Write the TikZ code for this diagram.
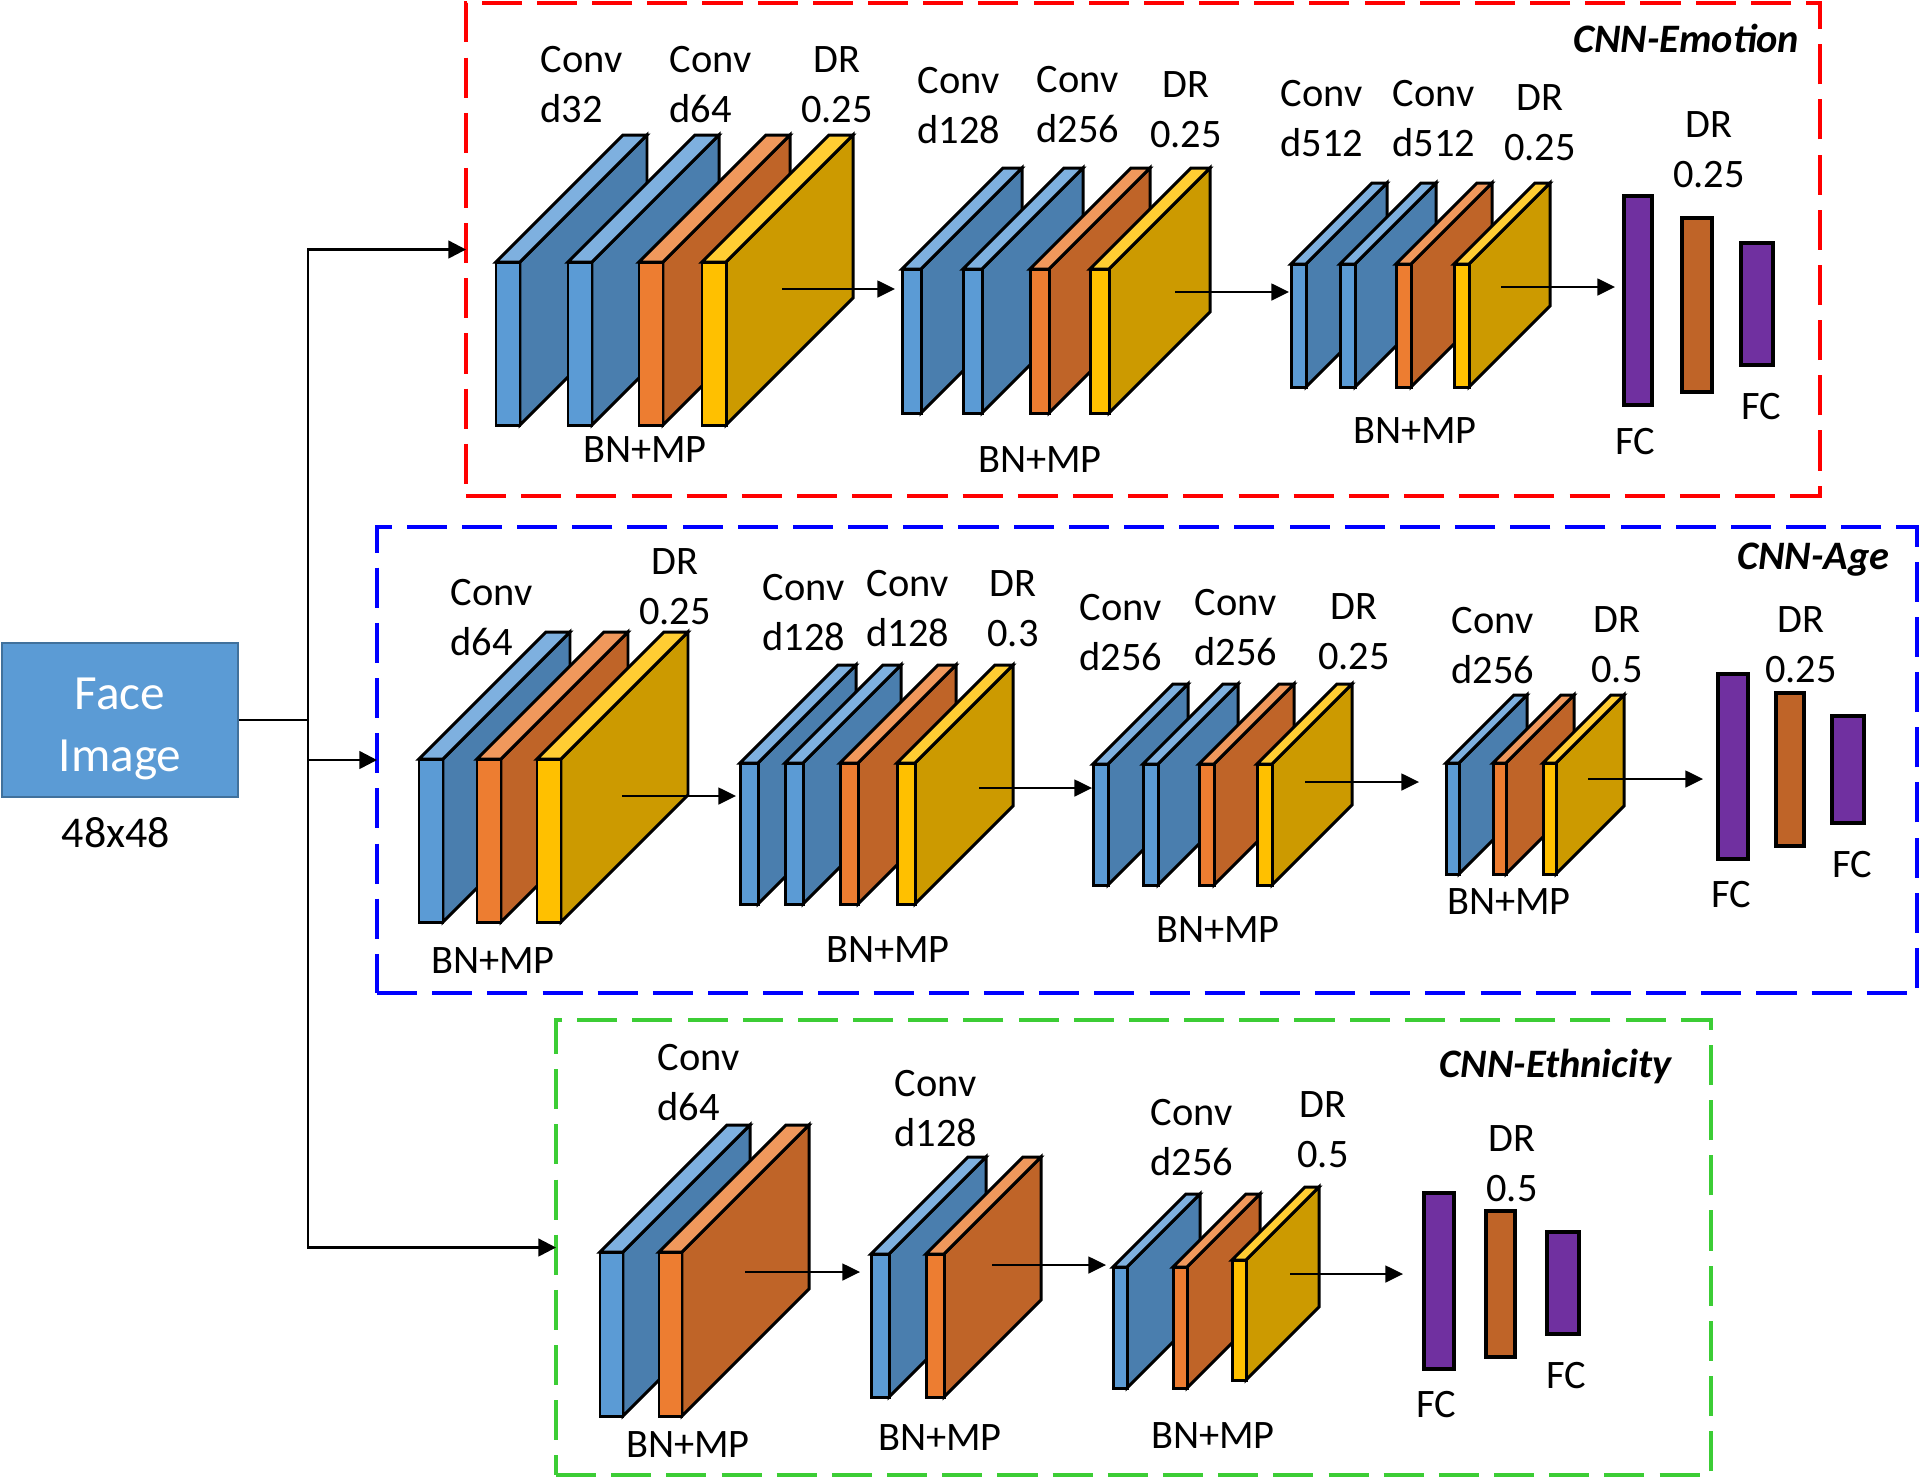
\documentclass[tikz,border=0pt]{standalone}
\usepackage{fontspec}
\setmainfont{Carlito}
\usetikzlibrary{arrows.meta}

% --- Colours ---
\definecolor{bluefront}{HTML}{5B9BD5}
\definecolor{bluetop}{HTML}{7EB0DF}
\definecolor{blueside}{HTML}{4A7EAE}
\definecolor{orangefront}{HTML}{ED7D31}
\definecolor{orangetop}{HTML}{F0985C}
\definecolor{orangeside}{HTML}{BF6428}
\definecolor{yellowfront}{HTML}{FFC000}
\definecolor{yellowtop}{HTML}{FFCD33}
\definecolor{yellowside}{HTML}{CC9A00}
\definecolor{fcpurple}{HTML}{7030A0}
\definecolor{drbrown}{HTML}{BF6428}
\definecolor{facefill}{HTML}{5B9BD5}
\definecolor{faceline}{HTML}{41719C}
\definecolor{emored}{HTML}{FF0000}
\definecolor{ageblue}{HTML}{0000FF}
\definecolor{ethgreen}{HTML}{3CCD35}

\tikzset{
	slab/.style={draw=black, line width=0.85pt, line join=miter},
	bar/.style={draw=black, line width=0.9pt},
	lbl/.style={font=\fontsize{11.5}{13.8}\selectfont, inner sep=0pt},
	title/.style={font=\fontsize{11.5}{13.8}\selectfont\bfseries\itshape, inner sep=0pt, anchor=base east},
	netbox/.style={draw, line width=1.4pt, dash pattern=on 11.4pt off 4.3pt, inner sep=0pt, outer sep=0pt},
	flow/.style={-{Triangle[length=5pt,width=4.8pt]}, line width=0.5pt},
	split/.style={line width=0.7pt},
}

% one layer: front top-left x, y, width, height, depth, colour family
\newcommand{\slab}[6]{%
	\filldraw[slab, fill=#6side] (#1+#3,#2) -- ++(#5,-#5) -- ++(0,#4) -- ++(-#5,#5) -- cycle;
	\filldraw[slab, fill=#6top] (#1,#2) -- ++(#5,-#5) -- ++(#3,0) -- ++(-#5,#5) -- cycle;
	\filldraw[slab, fill=#6front] (#1,#2) rectangle ++(#3,#4);
}
% two-line labels: name, x, first baseline, value
\newcommand{\convlbl}[4]{%
	\node[lbl, anchor=base west] (#1a) at (#2,#3) {Conv};
	\node[lbl, anchor=base west] (#1b) at (#2,#3+50) {d#4};
}
\newcommand{\drlbl}[4]{%
	\node[lbl, anchor=base] (#1a) at (#2,#3) {DR};
	\node[lbl, anchor=base] (#1b) at (#2,#3+50) {#4};
}

\begin{document}
\begin{tikzpicture}[x=0.1mm, y=-0.1mm]

	\useasboundingbox (0,0) rectangle (1920,1478);

	% --- Network frames ---
	\node[netbox, draw=emored, minimum width=135.4mm, minimum height=49.3mm] (emotion) at (1143,249.5) {};
	\node[netbox, draw=ageblue, minimum width=154mm, minimum height=46.6mm] (age) at (1147,760) {};
	\node[netbox, draw=ethgreen, minimum width=115.5mm, minimum height=45.5mm] (ethnicity) at (1133.5,1247.5) {};

	\node[title] (emotitle) at (1800,52) {CNN-Emotion};
	\node[title] (agetitle) at (1890,569) {CNN-Age};
	\node[title] (ethtitle) at (1672,1077) {CNN-Ethnicity};

	% --- Input ---
	\node[draw=faceline, line width=0.6pt, fill=facefill, text=white, align=center,
		font=\fontsize{14}{17.6}\selectfont, minimum width=23.6mm, minimum height=15.4mm] (face) at (120,720) {\rule{0pt}{14pt}Face\\Image};
	\node[lbl, font=\fontsize{12.5}{15}\selectfont, anchor=base] (size) at (116,847) {48x48};

	% --- Branches ---
	\coordinate (split) at (308,720);
	\draw[split] (face.east) -- (split);
	\draw[split, -{Triangle[length=5pt,width=5pt]}] (split) |- (emotion.west);
	\draw[split, -{Triangle[length=5pt,width=5pt]}] (split) |- (age.west);
	\draw[split, -{Triangle[length=5pt,width=5pt]}] (split) |- (ethnicity.west);

	% --- CNN-Emotion ---
	\foreach \x/\c in {496/blue, 568/blue, 639/orange, 702/yellow} {\slab{\x}{262}{24}{163}{127}{\c}}
	\foreach \x/\c in {902/blue, 963/blue, 1030/orange, 1090/yellow} {\slab{\x}{269}{19}{144}{101}{\c}}
	\foreach \x/\c in {1291/blue, 1340/blue, 1396/orange, 1454/yellow} {\slab{\x}{264}{15}{123}{81}{\c}}

	\filldraw[bar, fill=fcpurple] (1624,196) rectangle (1652,405);
	\filldraw[bar, fill=drbrown] (1682,218) rectangle (1712,392);
	\filldraw[bar, fill=fcpurple] (1741,243) rectangle (1773,365);

	\coordinate (eo1) at (782,289);  \coordinate (ei2) at (895,289);
	\coordinate (eo2) at (1175,292); \coordinate (ei3) at (1289,292);
	\coordinate (eo3) at (1501,287); \coordinate (ei4) at (1615,287);
	\draw[flow] (eo1) -- (ei2);
	\draw[flow] (eo2) -- (ei3);
	\draw[flow] (eo3) -- (ei4);

	\convlbl{ec1}{540}{72}{32}
	\convlbl{ec2}{669}{72}{64}
	\drlbl{ed1}{837}{72}{0.25}
	\convlbl{ec3}{917}{93}{128}
	\convlbl{ec4}{1036}{92}{256}
	\drlbl{ed2}{1186}{97}{0.25}
	\convlbl{ec5}{1280}{106}{512}
	\convlbl{ec6}{1392}{106}{512}
	\drlbl{ed3}{1540}{110}{0.25}
	\drlbl{ed4}{1709}{137}{0.25}

	\node[lbl, anchor=base] (ebn1) at (645,462) {BN+MP};
	\node[lbl, anchor=base] (ebn2) at (1040,472) {BN+MP};
	\node[lbl, anchor=base] (ebn3) at (1415,443) {BN+MP};
	\node[lbl, anchor=base] (efc1) at (1635,454) {FC};
	\node[lbl, anchor=base] (efc2) at (1761,419) {FC};

	% --- CNN-Age ---
	\foreach \x/\c in {419/blue, 477/orange, 537/yellow} {\slab{\x}{759}{24}{163}{127}{\c}}
	\foreach \x/\c in {740/blue, 785/blue, 840/orange, 897/yellow} {\slab{\x}{763}{18}{141}{98}{\c}}
	\foreach \x/\c in {1093/blue, 1143/blue, 1199/orange, 1257/yellow} {\slab{\x}{764}{15}{121}{80}{\c}}
	\foreach \x/\c in {1446/blue, 1493/orange, 1543/yellow} {\slab{\x}{763}{13}{111}{68}{\c}}

	\filldraw[bar, fill=fcpurple] (1718,674) rectangle (1748,859);
	\filldraw[bar, fill=drbrown] (1776,693) rectangle (1804,846);
	\filldraw[bar, fill=fcpurple] (1832,716) rectangle (1864,823);

	\coordinate (ao1) at (622,796);  \coordinate (ai2) at (736,796);
	\coordinate (ao2) at (979,788);  \coordinate (ai3) at (1092,788);
	\coordinate (ao3) at (1305,782); \coordinate (ai4) at (1419,782);
	\coordinate (ao4) at (1588,779); \coordinate (ai5) at (1703,779);
	\draw[flow] (ao1) -- (ai2);
	\draw[flow] (ao2) -- (ai3);
	\draw[flow] (ao3) -- (ai4);
	\draw[flow] (ao4) -- (ai5);

	\convlbl{ac1}{450}{605}{64}
	\drlbl{ad1}{675}{574}{0.25}
	\convlbl{ac2}{762}{600}{128}
	\convlbl{ac3}{866}{596}{128}
	\drlbl{ad2}{1013}{596}{0.3}
	\convlbl{ac4}{1079}{620}{256}
	\convlbl{ac5}{1194}{615}{256}
	\drlbl{ad3}{1354}{619}{0.25}
	\convlbl{ac6}{1451}{633}{256}
	\drlbl{ad4}{1617}{632}{0.5}
	\drlbl{ad5}{1801}{632}{0.25}

	\node[lbl, anchor=base] (abn1) at (493,973) {BN+MP};
	\node[lbl, anchor=base] (abn2) at (888,962) {BN+MP};
	\node[lbl, anchor=base] (abn3) at (1218,942) {BN+MP};
	\node[lbl, anchor=base] (abn4) at (1509,914) {BN+MP};
	\node[lbl, anchor=base] (afc1) at (1731,907) {FC};
	\node[lbl, anchor=base] (afc2) at (1852,877) {FC};

	% --- CNN-Ethnicity ---
	\foreach \x/\c in {600/blue, 659/orange} {\slab{\x}{1252}{23}{164}{127}{\c}}
	\foreach \x/\c in {871/blue, 926/orange} {\slab{\x}{1254}{18}{143}{97}{\c}}
	\foreach \x/\c in {1113/blue, 1173/orange} {\slab{\x}{1267}{14}{121}{73}{\c}}
	\slab{1232}{1260}{14}{120}{73}{yellow}

	\filldraw[bar, fill=fcpurple] (1424,1193) rectangle (1454,1369);
	\filldraw[bar, fill=drbrown] (1486,1211) rectangle (1515,1357);
	\filldraw[bar, fill=fcpurple] (1547,1232) rectangle (1579,1334);

	\coordinate (to1) at (745,1272);  \coordinate (ti2) at (860,1272);
	\coordinate (to2) at (992,1265);  \coordinate (ti3) at (1106,1265);
	\coordinate (to3) at (1290,1274); \coordinate (ti4) at (1403,1274);
	\draw[flow] (to1) -- (ti2);
	\draw[flow] (to2) -- (ti3);
	\draw[flow] (to3) -- (ti4);

	\convlbl{tc1}{657}{1070}{64}
	\convlbl{tc2}{894}{1096}{128}
	\convlbl{tc3}{1150}{1125}{256}
	\drlbl{td1}{1323}{1117}{0.5}
	\drlbl{td2}{1512}{1151}{0.5}

	\node[lbl, anchor=base] (tbn1) at (688,1457) {BN+MP};
	\node[lbl, anchor=base] (tbn2) at (940,1450) {BN+MP};
	\node[lbl, anchor=base] (tbn3) at (1213,1448) {BN+MP};
	\node[lbl, anchor=base] (tfc1) at (1436,1417) {FC};
	\node[lbl, anchor=base] (tfc2) at (1566,1388) {FC};

\end{tikzpicture}
\end{document}
